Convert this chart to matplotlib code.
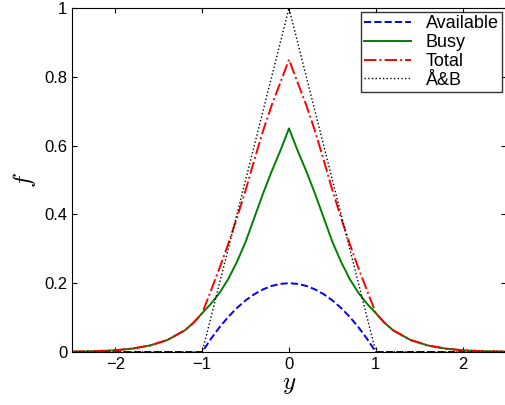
import matplotlib
matplotlib.use("Agg")
import matplotlib.pyplot as plt
import numpy as np

plt.rcParams['font.family'] = ['Liberation Sans', 'DejaVu Sans']
plt.rcParams['mathtext.fontset'] = 'cm'

y_half = [0.0, 0.1, 0.2, 0.3, 0.4, 0.5, 0.6, 0.7, 0.8, 0.9, 1.0, 1.1, 1.2, 1.4, 1.6, 1.8, 2.0, 2.2, 2.5]
busy_half = [0.65, 0.585, 0.525, 0.46, 0.39, 0.32, 0.262, 0.212, 0.172, 0.14, 0.113, 0.085, 0.063, 0.035, 0.019, 0.01, 0.005, 0.0025, 0.001]
avail_half = [0.2, 0.198, 0.192, 0.182, 0.168, 0.15, 0.128, 0.102, 0.072, 0.038, 0.0, 0, 0, 0, 0, 0, 0, 0, 0]
ab_y = [-2.5, -1.0, 0.0, 1.0, 2.5]
ab_f = [0.0, 0.0, 1.0, 0.0, 0.0]

y = np.array([-v for v in y_half[:0:-1]] + y_half)
busy = np.array(busy_half[:0:-1] + busy_half)
avail = np.array(avail_half[:0:-1] + avail_half)
total = busy + avail

fig = plt.figure(figsize=(5.06, 4.05), dpi=100)
ax = fig.add_axes([72/506, 1-352/405, 434/506, 344/405])
ax.plot(y, avail, 'b--', lw=1.4, label='Available')
ax.plot(y, busy, '-', color='#007f00', lw=1.4, label='Busy')
ax.plot(y, total, 'r-.', lw=1.4, label='Total')
ax.plot(ab_y, ab_f, 'k:', lw=1.0, label='Å&B')
ax.set_xlim(-2.5, 2.5)
ax.set_ylim(0, 1)
ax.set_xticks([-2, -1, 0, 1, 2])
ax.set_yticks([0, 0.2, 0.4, 0.6, 0.8, 1])
ax.set_yticklabels(['0', '0.2', '0.4', '0.6', '0.8', '1'])
ax.tick_params(direction='in', labelsize=12, top=True, right=True)
ax.set_xlabel('$y$', fontsize=18, labelpad=0)
ax.set_ylabel('$f$', fontsize=18)
leg = ax.legend(loc='upper right', fontsize=13, fancybox=False, edgecolor='k',
                borderaxespad=0.2, handlelength=2.6, labelspacing=0.1, borderpad=0.2)
leg.get_frame().set_linewidth(1.0)
fig.savefig('out.png', dpi=100)
